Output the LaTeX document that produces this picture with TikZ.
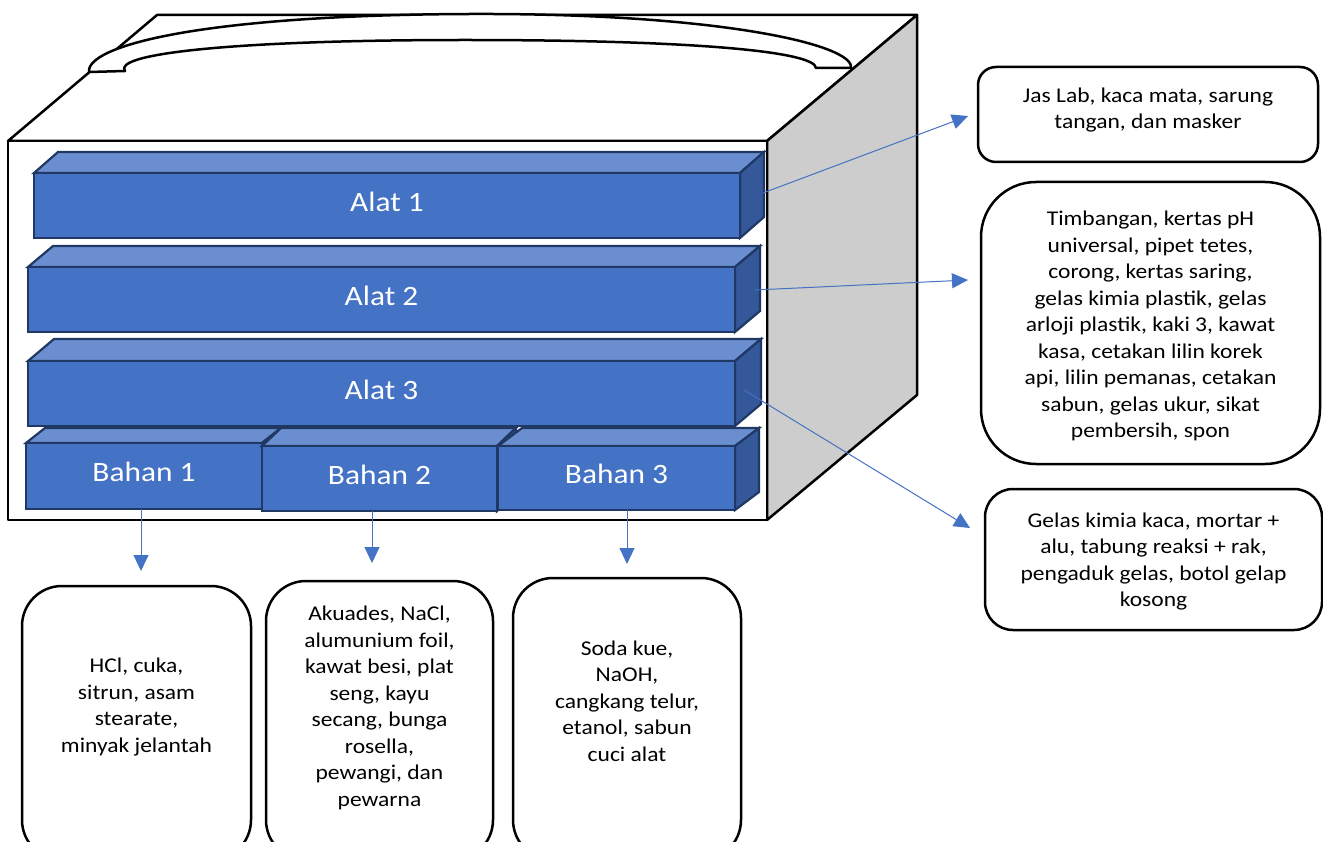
\documentclass[tikz,border=0pt]{standalone}
\usepackage{fontspec}
\setmainfont{Carlito}[FakeStretch=1.12]
\usetikzlibrary{arrows.meta}
\definecolor{bfront}{HTML}{4472C4}
\definecolor{btop}{HTML}{6A8ED0}
\definecolor{bside}{HTML}{34589A}
\definecolor{bline}{HTML}{1F3864}
\definecolor{sidegray}{HTML}{CDCDCD}
\definecolor{arr}{HTML}{4472C4}
\tikzset{
  boxline/.style={draw=black, line width=2.5pt, line join=round},
  blkline/.style={draw=bline, line width=2.2pt, line join=miter},
  blktop/.style={blkline, fill=btop},
  blkside/.style={blkline, fill=bside},
  blkfront/.style={blkline, fill=bfront, text=white, font=\fontsize{28}{30}\selectfont, inner sep=0pt, outer sep=0pt, text depth=8pt},
  conn/.style={draw=arr, line width=1pt, -{Triangle[length=16pt,width=15pt]}},
  infobox/.style={draw=black, line width=2.5pt, fill=white, align=center, font=\fontsize{21}{26.5}\selectfont, inner sep=0pt},
  txt/.style={align=center, font=\fontsize{21}{26.5}\selectfont, inner sep=0pt}
}
\newcommand\myblk[8]{%
  \filldraw[blktop] (#1,#2) -- (#1+#5,#2-#6) -- (#3+#5,#2-#6) -- (#3,#2) -- cycle;
  \filldraw[blkside] (#3,#2) -- (#3+#5,#2-#6) -- (#3+#5,#4-#6) -- (#3,#4) -- cycle;
  \node[blkfront, minimum width={(#3-#1)*1pt}, minimum height={(#4-#2)*1pt}, anchor=north west] (#7) at (#1,#2) {#8};
}
\begin{document}
\begin{tikzpicture}[x=1pt,y=-1pt]
\useasboundingbox (0,0) rectangle (1323,842);
\clip (0,0) rectangle (1323,842);
\fill[white] (0,0) rectangle (1323,842);
% case body
\filldraw[boxline, fill=white] (8,141) -- (157,15) -- (917,15) -- (767,141) -- cycle;
\filldraw[boxline, fill=white] (89,72) .. controls (86,46) and (200,15) .. (470,14)
  .. controls (720,13) and (855,45) .. (851,68) -- (816,68)
  .. controls (815,52) and (700,40) .. (465,40)
  .. controls (230,40) and (112,54) .. (125,71) -- cycle;
\filldraw[boxline, fill=sidegray] (767,141) -- (917,15) -- (917,395) -- (767,520) -- cycle;
\filldraw[boxline, fill=white] (8,141) rectangle (767,520);
% blocks
\myblk{34}{173}{740}{238}{24}{21}{alat1}{Alat 1}
\myblk{28}{267}{735}{332}{25}{21}{alat2}{Alat 2}
\myblk{28}{361}{735}{426}{26}{22}{alat3}{Alat 3}
\myblk{26}{443}{262}{509}{19}{15}{bahan1}{Bahan 1}
\myblk{262}{446}{497}{511}{19}{18}{bahan2}{Bahan 2}
\myblk{498}{446}{735}{510}{24}{18}{bahan3}{Bahan 3}
% right boxes
\node[infobox, rounded corners=18pt, minimum width=340pt, minimum height=95pt] (r1) at (1148,114.5) {};
\node[txt] (r1t) at (1148,110) {Jas Lab, kaca mata, sarung\\tangan, dan masker};
\node[infobox, rounded corners=55pt, minimum width=339pt, minimum height=282pt] (r2) at (1150.5,323) {};
\node[txt] (r2t) at (1150.5,326) {Timbangan, kertas pH\\universal, pipet tetes,\\corong, kertas saring,\\gelas kimia plastik, gelas\\arloji plastik, kaki 3, kawat\\kasa, cetakan lilin korek\\api, lilin pemanas, cetakan\\sabun, gelas ukur, sikat\\pembersih, spon};
\node[infobox, rounded corners=28pt, minimum width=337pt, minimum height=141pt] (r3) at (1153.5,559.5) {};
\node[txt] (r3t) at (1153.5,561.5) {Gelas kimia kaca, mortar +\\alu, tabung reaksi + rak,\\pengaduk gelas, botol gelap\\kosong};
% bottom boxes
\node[infobox, rounded corners=40pt, minimum width=229pt, minimum height=274pt] (b1) at (136.5,723) {};
\node[infobox, rounded corners=40pt, minimum width=227pt, minimum height=279pt] (b2) at (379.5,720.5) {};
\node[infobox, rounded corners=40pt, minimum width=228pt, minimum height=282pt] (b3) at (627,719) {};
\node[txt] (b1t) at (136.5,707) {HCl, cuka,\\sitrun, asam\\stearate,\\minyak jelantah};
\node[txt] (b2t) at (379.5,708) {Akuades, NaCl,\\alumunium foil,\\kawat besi, plat\\seng, kayu\\secang, bunga\\rosella,\\pewangi, dan\\pewarna};
\node[txt] (b3t) at (627,701) {Soda kue,\\NaOH,\\cangkang telur,\\etanol, sabun\\cuci alat};
% connectors
\coordinate (s1) at (763,193); \coordinate (t1) at (968,116);
\coordinate (s2) at (755,290); \coordinate (t2) at (968,280);
\coordinate (s3) at (744,390); \coordinate (t3) at (970,528);
\coordinate (d1) at (141,571); \coordinate (d2) at (372,563); \coordinate (d3) at (627,564);
\draw[conn] (s1) -- (t1);
\draw[conn] (s2) -- (t2);
\draw[conn] (s3) -- (t3);
\draw[conn] (bahan1.south -| d1) -- (d1);
\draw[conn] (bahan2.south -| d2) -- (d2);
\draw[conn] (bahan3.south -| d3) -- (d3);
\end{tikzpicture}
\end{document}
